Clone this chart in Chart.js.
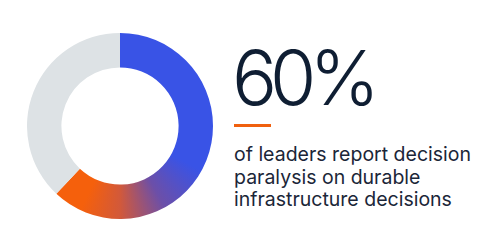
<!DOCTYPE html>
<html>
<head>
<meta charset="utf-8">
<script src="https://cdn.jsdelivr.net/npm/chart.js@4"></script>
<style>
  html, body { margin: 0; padding: 0; background: #fff; }
  body { width: 500px; height: 250px; position: relative; overflow: hidden; font-family: Inter, "Noto Sans", sans-serif; }
  #chart-box { position: absolute; left: 27px; top: 33px; width: 186px; height: 186px; }
  #big { position: absolute; left: 232px; top: 33px; font-size: 75px; font-weight: 300; color: #0f1e33; letter-spacing: -7px; line-height: 90px; }
  #rule { position: absolute; left: 234px; top: 124px; width: 37px; height: 3px; background: #f0600f; }
  #desc { position: absolute; left: 234px; top: 143px; font-size: 19.5px; line-height: 22.5px; color: #1b2638; }
</style>
</head>
<body>
<div id="chart-box"><canvas id="donut"></canvas></div>
<div id="big"></div>
<div id="rule"></div>
<div id="desc"></div>
<script>
const etiquetas = ['Report decision paralysis', 'Other'];
const valores = [62, 38];
const titulo = '60%';
const lineas = ['of leaders report decision', 'paralysis on durable', 'infrastructure decisions'];

document.getElementById('big').textContent = titulo;
document.getElementById('desc').innerHTML = lineas.join('<br>');

// degradado conico: azul arriba, pasa a naranja abajo a la izquierda
function colorSegmento(context) {
    if (context.dataIndex !== 0) return '#dde2e5';
    const chart = context.chart;
    const area = chart.chartArea;
    if (!area) return '#3953e6';
    const cx = (area.left + area.right) / 2;
    const cy = (area.top + area.bottom) / 2;
    const g = chart.ctx.createConicGradient(-Math.PI / 2, cx, cy);
    g.addColorStop(0, '#3953e6');
    g.addColorStop(0.33, '#3953e6');
    g.addColorStop(0.42, '#6c4fa8');
    g.addColorStop(0.5, '#d2593a');
    g.addColorStop(0.57, '#f5600c');
    g.addColorStop(1, '#f5600c');
    return g;
}

new Chart(document.getElementById('donut'), {
    type: 'doughnut',
    data: {
        labels: etiquetas,
        datasets: [{
            data: valores,
            backgroundColor: colorSegmento,
            borderWidth: 0
        }]
    },
    options: {
        responsive: true,
        maintainAspectRatio: false,
        animation: false,
        cutout: '63%',
        layout: { padding: 0 },
        plugins: {
            legend: { display: false },
            tooltip: { enabled: false }
        }
    }
});
</script>
</body>
</html>
